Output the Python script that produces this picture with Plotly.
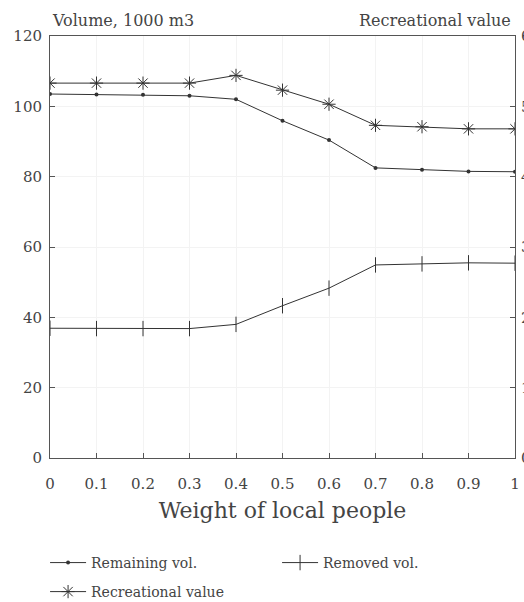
import plotly.graph_objects as go

weights = [0, 0.1, 0.2, 0.3, 0.4, 0.5, 0.6, 0.7, 0.8, 0.9, 1.0]
remaining_vol = [103.5, 103.4, 103.3, 103.0, 102.0, 95.9, 90.4, 82.5, 82.0, 81.5, 81.4]
removed_vol = [36.9, 36.8, 36.8, 36.8, 38.0, 43.3, 48.3, 54.9, 55.2, 55.5, 55.4]
recreational_value = [5.33, 5.33, 5.33, 5.33, 5.44, 5.23, 5.03, 4.73, 4.71, 4.68, 4.68]

x_ticks = [0, 0.1, 0.2, 0.3, 0.4, 0.5, 0.6, 0.7, 0.8, 0.9, 1]
x_tick_labels = ["0", "0.1", "0.2", "0.3", "0.4", "0.5", "0.6", "0.7", "0.8", "0.9", "1"]
y_ticks = [0, 20, 40, 60, 80, 100, 120]
y2_ticks = [0, 1, 2, 3, 4, 5, 6]

FONT = "DejaVu Serif"
INK = "#333333"

fig = go.Figure()
fig.add_trace(go.Scatter(
    x=weights, y=remaining_vol, name="Remaining vol.", mode="lines+markers",
    line=dict(color=INK, width=1), marker=dict(symbol="circle", size=4, color=INK),
    legend="legend"))
fig.add_trace(go.Scatter(
    x=weights, y=removed_vol, name="Removed vol.", mode="lines+markers",
    line=dict(color=INK, width=1),
    marker=dict(symbol="line-ns-open", size=11, color=INK, line=dict(color=INK, width=1)),
    legend="legend"))
fig.add_trace(go.Scatter(
    x=weights, y=recreational_value, name="Recreational value", mode="lines+markers",
    yaxis="y2", line=dict(color=INK, width=1),
    marker=dict(symbol="asterisk-open", size=11, color=INK, line=dict(color=INK, width=1)),
    legend="legend2"))

axis_common = dict(showline=True, linecolor="#555555", linewidth=1, ticks="inside",
                   ticklen=5, tickcolor="#555555", zeroline=False,
                   tickfont=dict(family=FONT, size=15, color="#444444"))

legend_font = dict(family=FONT, size=14, color="#444444")

fig.update_layout(
    width=524, height=602,
    margin=dict(l=50, r=9, t=36, b=144, autoexpand=False),
    paper_bgcolor="white", plot_bgcolor="white",
    font=dict(family=FONT, color="#444444"),
    xaxis=dict(range=[0, 1], tickvals=x_ticks, ticktext=x_tick_labels, mirror=True,
               showgrid=True, gridcolor="#f3f3f3", ticklabelstandoff=12,
               title=dict(text="Weight of local people", font=dict(family=FONT, size=22, color="#444444"),
                          standoff=10),
               **axis_common),
    yaxis=dict(range=[0, 120], tickvals=y_ticks, mirror=True, showgrid=True,
               gridcolor="#f3f3f3", ticklabelstandoff=4, **axis_common),
    yaxis2=dict(range=[0, 6], tickvals=y2_ticks, overlaying="y", side="right",
                showgrid=False, ticklabelstandoff=2, automargin=False, **axis_common),
    showlegend=True,
    legend=dict(orientation="h", x=0.086, xref="container", y=0.0648, yref="container",
                xanchor="left", yanchor="middle",
                entrywidth=181, entrywidthmode="pixels", itemwidth=36,
                font=legend_font, bgcolor="rgba(0,0,0,0)"),
    legend2=dict(orientation="h", x=0.086, xref="container", y=0.0166, yref="container",
                 xanchor="left", yanchor="middle",
                 itemwidth=36, font=legend_font, bgcolor="rgba(0,0,0,0)"),
    annotations=[
        dict(text="Volume, 1000 m3", xref="paper", yref="paper", x=0, y=1, xanchor="left",
             yanchor="bottom", yshift=4, showarrow=False,
             font=dict(family=FONT, size=16, color="#444444")),
        dict(text="Recreational value", xref="paper", yref="paper", x=1, y=1, xanchor="right",
             yanchor="bottom", yshift=4, xshift=-2, showarrow=False,
             font=dict(family=FONT, size=16, color="#444444")),
    ],
)

fig.write_html("out.html")
